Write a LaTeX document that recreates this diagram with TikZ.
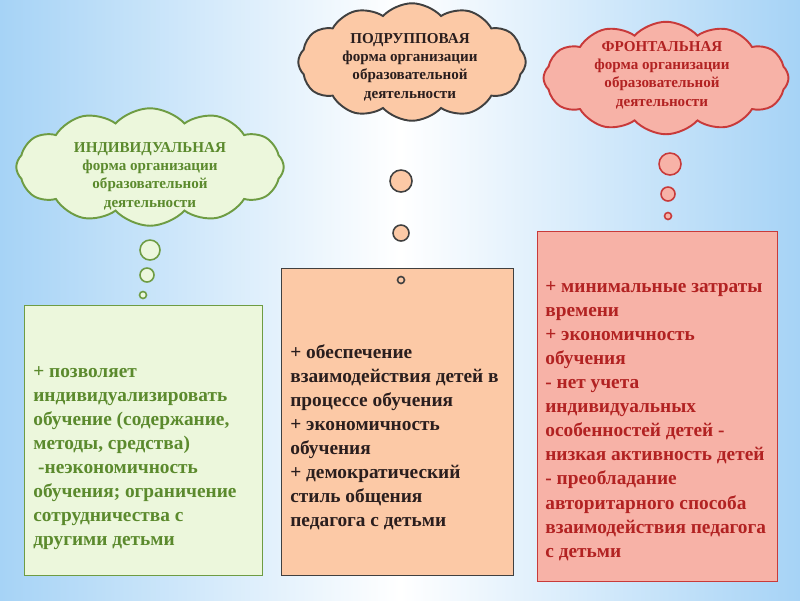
\documentclass[tikz,border=0pt]{standalone}
\usepackage{fontspec}
\setmainfont{Liberation Serif}
\usetikzlibrary{shapes.symbols, positioning}
\definecolor{skyblue}{HTML}{A6D3F6}
\definecolor{leafline}{HTML}{6E9C43}
\definecolor{leaffill}{HTML}{ECF7DC}
\definecolor{leaftext}{HTML}{5B8A2D}
\definecolor{peachfill}{HTML}{FCC9A6}
\definecolor{peachline}{HTML}{404040}
\definecolor{peachtext}{HTML}{2A1E1E}
\definecolor{rosefill}{HTML}{F7B2A7}
\definecolor{roseline}{HTML}{C83A3A}
\definecolor{rosetext}{HTML}{B22222}
\tikzset{
  bubble/.style={cloud, cloud puffs=12, cloud puff arc=95, cloud ignores aspect,
    draw, line width=1.1pt, inner sep=0pt},
  bubbletext/.style={align=center, font=\bfseries\fontsize{8.6}{10.4}\selectfont},
  dot/.style={circle, draw, line width=0.9pt, inner sep=0pt},
  listbox/.style={rectangle, draw, line width=0.8pt, inner sep=0pt},
  listtext/.style={align=left, anchor=west, inner sep=0pt,
    font=\bfseries\fontsize{11}{13.7}\selectfont},
}

\begin{document}
\begin{tikzpicture}[x=0.02cm, y=-0.02cm]
    \useasboundingbox (0,0) rectangle (800,600);
    \shade[left color=skyblue, right color=skyblue, middle color=white]
      (0,0) rectangle (800,600);

    % clouds
    \node[bubble, draw=leafline, fill=leaffill, minimum width=5.35cm, minimum height=2.35cm]
      (indcloud) at (150,167) {};
    \node[bubbletext, text=leaftext] (indtitle) at (150,176)
      {ИНДИВИДУАЛЬНАЯ\\форма организации\\образовательной\\деятельности};
    \node[bubble, draw=peachline, fill=peachfill, minimum width=4.55cm, minimum height=2.35cm]
      (grpcloud) at (412,62) {};
    \node[bubbletext, text=peachtext] (grptitle) at (410,67)
      {ПОДРУППОВАЯ\\форма организации\\образовательной\\деятельности};
    \node[bubble, draw=roseline, fill=rosefill, minimum width=4.9cm, minimum height=2.25cm]
      (frontcloud) at (666,78) {};
    \node[bubbletext, text=rosetext] (fronttitle) at (662,75)
      {ФРОНТАЛЬНАЯ\\форма организации\\образовательной\\деятельности};

    % boxes
    \node[listbox, draw=leafline, fill=leaffill, minimum width=4.76cm, minimum height=5.4cm,
      anchor=north west] (indbox) at (24,305) {};
    \node[listbox, draw=peachline, fill=peachfill, minimum width=4.64cm, minimum height=6.14cm,
      anchor=north west] (grpbox) at (281,268) {};
    \node[listbox, draw=roseline, fill=rosefill, minimum width=4.8cm, minimum height=7cm,
      anchor=north west] (frontbox) at (537,231) {};

    % thought dots
    \foreach \px/\py/\d [count=\i] in {150/250/20, 147/275/14, 143/295/7}
      \node[dot, draw=leafline, fill=leaffill, minimum size=\d*0.02cm] (inddot\i) at (\px,\py) {};
    \foreach \px/\py/\d [count=\i] in {401/181/22, 401/233/16, 401/280/7}
      \node[dot, draw=peachline, fill=peachfill, minimum size=\d*0.02cm] (grpdot\i) at (\px,\py) {};
    \foreach \px/\py/\d [count=\i] in {670/164/22, 668/194/14, 668/216/7}
      \node[dot, draw=roseline, fill=rosefill, minimum size=\d*0.02cm] (frontdot\i) at (\px,\py) {};

    \node[listtext, text=leaftext] (indlist) at (33,458)
      {+ позволяет\\индивидуализировать\\обучение (содержание,\\методы, средства)\\
       \ -неэкономичность\\обучения; ограничение\\сотрудничества с\\другими детьми};
    \node[listtext, text=peachtext] (grplist) at (290,437)
      {+ обеспечение\\взаимодействия детей в\\процессе обучения\\+ экономичность\\обучения\\
       + демократический\\стиль общения\\педагога с детьми};
    \node[listtext, text=rosetext] (frontlist) at (545,421)
      {+ минимальные затраты\\времени\\+ экономичность\\обучения\\- нет учета\\индивидуальных\\
       особенностей детей -\\низкая активность детей\\- преобладание\\авторитарного способа\\
       взаимодействия педагога\\с детьми};
\end{tikzpicture}
\end{document}
